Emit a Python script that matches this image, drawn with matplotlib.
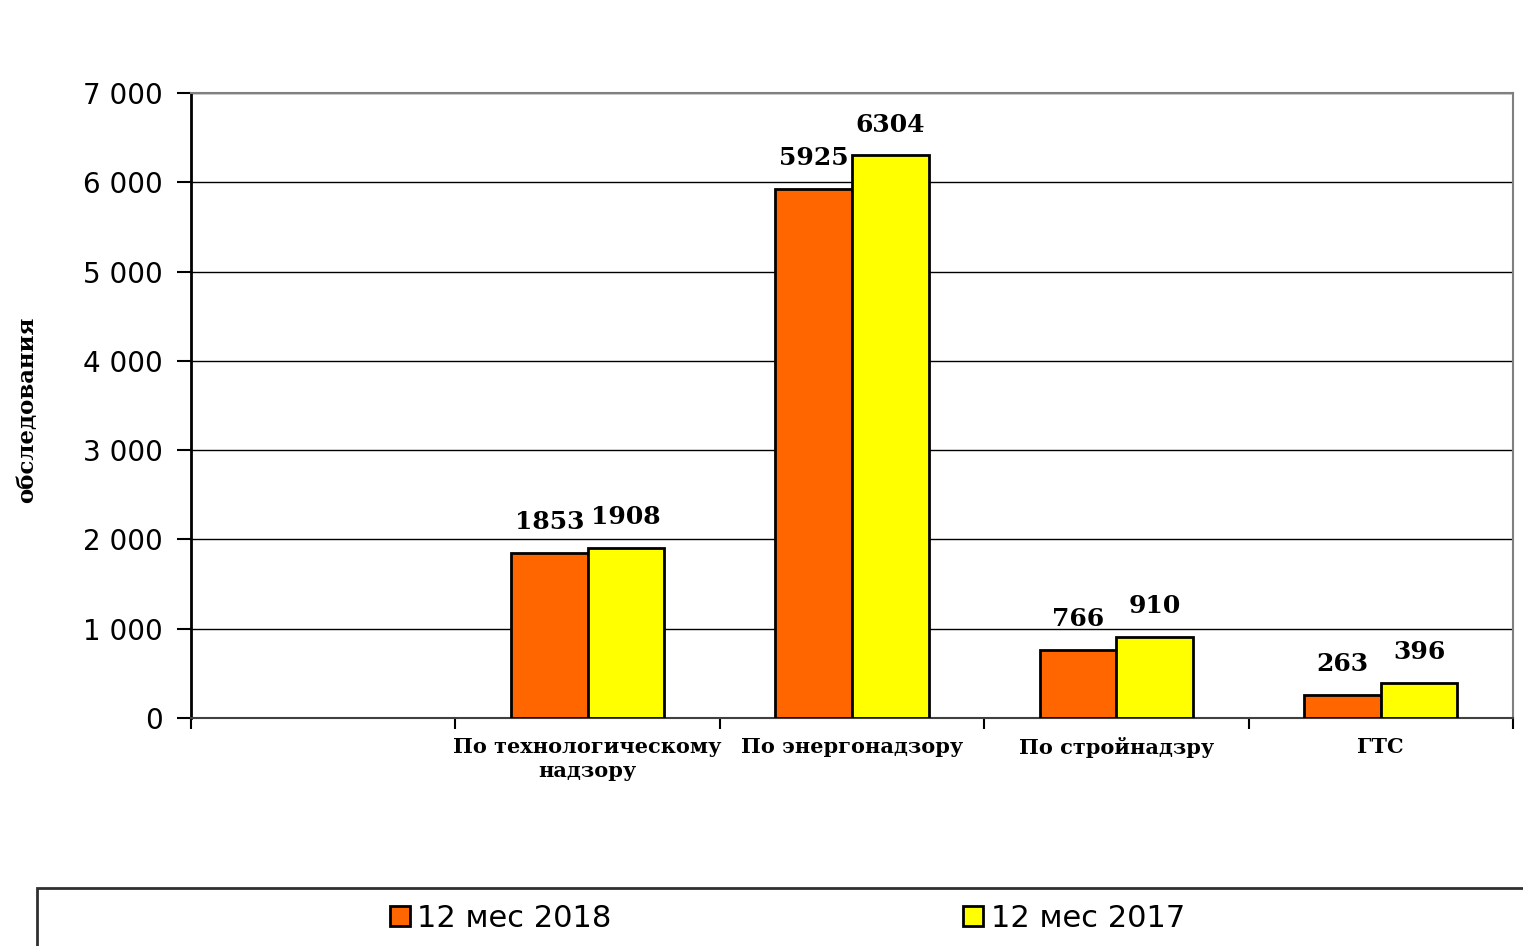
import numpy as np
import matplotlib
matplotlib.use("Agg")
import matplotlib.pyplot as plt
from matplotlib.patches import Rectangle

# data
categories = ["", "По технологическому\nнадзору", "По энергонадзору", "По стройнадзру", "ГТС"]
vals_2018 = [0, 1853, 5925, 766, 263]
vals_2017 = [0, 1908, 6304, 910, 396]
has_data = [False, True, True, True, True]
series_names = ["12 мес 2018", "12 мес 2017"]
yticks = [0, 1000, 2000, 3000, 4000, 5000, 6000, 7000]

plt.rcParams["font.family"] = ["DejaVu Sans"]
serif = "DejaVu Serif"

fig = plt.figure(figsize=(15.23, 9.46), dpi=100)
ax = fig.add_axes([191 / 1523, 1 - 718 / 946, (1513 - 191) / 1523, (718 - 93) / 946])

x = np.arange(len(categories))
w = 0.29
idx = [i for i in x if has_data[i]]
b1 = ax.bar(x[idx] - w / 2, np.array(vals_2018)[idx], w, color="#FF6600",
            edgecolor="black", linewidth=2, zorder=3, label=series_names[0])
b2 = ax.bar(x[idx] + w / 2, np.array(vals_2017)[idx], w, color="#FFFF00",
            edgecolor="black", linewidth=2, zorder=3, label=series_names[1])

for bars in (b1, b2):
    for r in bars:
        ax.annotate(f"{int(r.get_height())}", (r.get_x() + r.get_width() / 2, r.get_height()),
                    xytext=(0, 22), textcoords="offset points", ha="center", va="center",
                    fontsize=18, fontweight="bold", family=serif)

ax.set_xlim(-0.5, len(categories) - 0.5)
ax.set_ylim(0, 7000)
ax.set_yticks(yticks)
ax.set_yticklabels([f"{v:,}".replace(",", " ") for v in yticks], fontsize=20)
ax.yaxis.grid(True, color="black", linewidth=1, zorder=0)

ax.set_xticks(x)
ax.set_xticklabels(categories, fontsize=15, fontweight="bold", family=serif,
                   linespacing=1.2)
ax.set_xticks(np.arange(len(categories) + 1) - 0.5, minor=True)
ax.tick_params(axis="x", which="major", length=0, pad=14)
ax.tick_params(axis="x", which="minor", length=8, width=1.5, direction="out")
ax.tick_params(axis="y", length=10, width=1.5, pad=10)

for s in ("top", "right"):
    ax.spines[s].set_color("#808080")
    ax.spines[s].set_linewidth(1.5)
ax.spines["left"].set_linewidth(2)
ax.spines["bottom"].set_linewidth(1.5)
ax.spines["bottom"].set_color("#404040")

fig.text(27 / 1523, 1 - 410 / 946, "обследования", rotation=90, ha="center", va="center",
         fontsize=16.5, fontweight="bold", family=serif)

# legend box (runs off the right and bottom edges)
fig.patches.append(Rectangle((37 / 1523, -0.05), 1.0, 0.05 + (946 - 888) / 946,
                             transform=fig.transFigure, fill=False, edgecolor="#303030",
                             linewidth=2))
fig.legend(handles=[b1, b2], labels=series_names, loc="center", bbox_to_anchor=(0.517, 1 - 918 / 946),
           ncol=2, frameon=False, fontsize=22, handlelength=0.65, handleheight=0.65,
           handletextpad=0.25, columnspacing=11.5)

fig.savefig("out.png", dpi=100)
